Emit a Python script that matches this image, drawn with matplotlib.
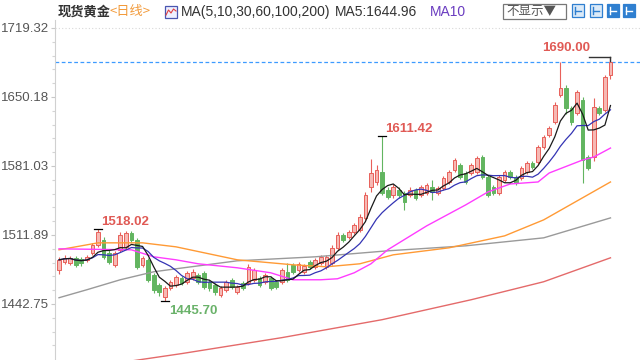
import numpy as np
import pandas as pd
import matplotlib
matplotlib.use('Agg')
import matplotlib.pyplot as plt
from matplotlib.patches import Rectangle

# daily candles, oldest first
opens = [
    1477, 1485, 1484, 1489, 1488, 1487, 1494, 1502, 1507, 1494,
    1482, 1497, 1500, 1514, 1507, 1482, 1487, 1472, 1462, 1450,
    1459, 1462, 1469, 1465, 1469, 1472, 1474, 1465, 1462, 1452,
    1457, 1467, 1455, 1464, 1464, 1467, 1469, 1465, 1469, 1465,
    1465, 1475, 1482, 1477, 1475, 1485, 1480, 1484, 1480, 1484,
    1499, 1512, 1510, 1515, 1517, 1529, 1560, 1565, 1575, 1557,
    1552, 1557, 1554, 1552, 1557, 1552, 1554, 1560, 1554, 1559,
    1565, 1577, 1582, 1574, 1574, 1575, 1590, 1570, 1560, 1554,
    1567, 1575, 1570, 1569, 1575, 1584, 1585, 1600, 1612, 1625,
    1652, 1659, 1639, 1634, 1647, 1590, 1590, 1639, 1637, 1672]
closes = [
    1487, 1489, 1489, 1482, 1484, 1490, 1502, 1515, 1490, 1485,
    1494, 1512, 1514, 1507, 1480, 1489, 1467, 1457, 1455, 1459,
    1465, 1470, 1464, 1474, 1475, 1465, 1460, 1459, 1455, 1459,
    1465, 1460, 1460, 1459, 1480, 1477, 1462, 1472, 1459, 1460,
    1477, 1467, 1475, 1483, 1481, 1480, 1487, 1490, 1490, 1499,
    1512, 1507, 1515, 1522, 1530, 1552, 1574, 1577, 1554, 1550,
    1560, 1552, 1545, 1557, 1549, 1560, 1562, 1555, 1559, 1569,
    1575, 1587, 1570, 1565, 1582, 1589, 1570, 1552, 1554, 1570,
    1575, 1570, 1564, 1579, 1584, 1580, 1600, 1610, 1619, 1642,
    1659, 1639, 1625, 1655, 1587, 1579, 1640, 1634, 1670, 1685]
highs = [
    1490, 1492, 1491, 1491, 1490, 1492, 1504, 1518.02, 1510, 1497,
    1496, 1515, 1516, 1516, 1509, 1491, 1489, 1474, 1464, 1461,
    1467, 1472, 1471, 1476, 1478, 1474, 1476, 1467, 1464, 1461,
    1467, 1469, 1462, 1466, 1483, 1479, 1471, 1474, 1471, 1467,
    1479, 1484, 1484, 1485, 1483, 1487, 1489, 1492, 1492, 1502,
    1515, 1514, 1517, 1524, 1533, 1555, 1588, 1582, 1611.42, 1560,
    1563, 1560, 1556, 1560, 1559, 1562, 1564, 1567, 1561, 1571,
    1577, 1589, 1584, 1576, 1584, 1591, 1592, 1572, 1562, 1572,
    1577, 1577, 1572, 1581, 1586, 1586, 1602, 1612, 1621, 1645,
    1685, 1662, 1641, 1657, 1650, 1592, 1649, 1641, 1672, 1690.00]
lows = [
    1473, 1483, 1482, 1480, 1481, 1485, 1492, 1500, 1488, 1483,
    1480, 1495, 1498, 1505, 1478, 1480, 1465, 1454, 1451, 1445.70,
    1457, 1460, 1462, 1463, 1467, 1463, 1458, 1456, 1452, 1450,
    1455, 1458, 1453, 1457, 1462, 1465, 1460, 1463, 1457, 1458,
    1463, 1465, 1473, 1475, 1473, 1478, 1478, 1482, 1478, 1482,
    1497, 1505, 1508, 1513, 1515, 1527, 1555, 1562, 1552, 1548,
    1549, 1549, 1537, 1550, 1547, 1550, 1552, 1547, 1552, 1557,
    1563, 1575, 1568, 1563, 1572, 1573, 1568, 1550, 1552, 1552,
    1565, 1568, 1562, 1567, 1573, 1578, 1583, 1598, 1610, 1623,
    1650, 1633, 1622, 1632, 1564, 1577, 1586, 1632, 1635, 1668]

# long moving averages (need history before the window), read at a few candles
ma30_idx = [0, 13, 17, 21, 25, 32, 38, 42, 47, 50, 53, 56, 59, 66, 73, 77, 81, 86, 88, 94, 96, 99]
ma30_val = [1498, 1497, 1490, 1487, 1483, 1479, 1474, 1467, 1467, 1468, 1474, 1483, 1497,
            1521, 1542, 1555, 1563, 1565, 1574, 1587, 1590, 1599]
ma60_idx = [0, 7, 15, 21, 32, 42, 48, 54, 60, 70, 80, 87, 93, 99]
ma60_val = [1497, 1504, 1504, 1500, 1487, 1482, 1480, 1483, 1492, 1499, 1511, 1527, 1546, 1565]
ma100_idx = [0, 5, 11, 17, 21, 32, 46, 59, 73, 87, 99]
ma100_val = [1449, 1457, 1467, 1475, 1478, 1486, 1490, 1496, 1501, 1509, 1529]
ma200_idx = [0, 22, 40, 58, 74, 87, 99]
ma200_val = [1375, 1393, 1409, 1427, 1447, 1465, 1489]

ytick_vals = [1442.75, 1511.89, 1581.03, 1650.18, 1719.32]

RED_EDGE = '#e8605a'
RED_FILL = '#f6b9b4'
GREEN = '#62b560'

W, H = 640, 360
fig = plt.figure(figsize=(6.4, 3.6), dpi=100)
ax = fig.add_axes([55 / W, 0, 585 / W, 340 / H])

o = np.array(opens, float)
c = np.array(closes, float)
hi = np.array(highs, float)
lo = np.array(lows, float)
x = np.arange(len(c))
up = c >= o

# wicks then bodies
ax.vlines(x[up], lo[up], hi[up], color=RED_EDGE, lw=0.8, zorder=2)
ax.vlines(x[~up], lo[~up], hi[~up], color=GREEN, lw=0.8, zorder=2)
ax.bar(x[up], (c - o)[up], bottom=o[up], width=0.66, color=RED_FILL,
       edgecolor=RED_EDGE, linewidth=0.7, zorder=3)
ax.bar(x[~up], (o - c)[~up], bottom=c[~up], width=0.66, color=GREEN,
       edgecolor=GREEN, linewidth=0.7, zorder=3)

# moving averages
s = pd.Series(c)
ax.plot(ma200_idx, ma200_val, color='#e46a6a', lw=1.0, zorder=4)
ax.plot(ma100_idx, ma100_val, color='#9a9a9a', lw=1.0, zorder=4)
ax.plot(ma60_idx, ma60_val, color='#ff9a35', lw=1.0, zorder=4)
ax.plot(ma30_idx, ma30_val, color='#ff3cff', lw=1.0, zorder=4)
ax.plot(x, s.rolling(10, min_periods=1).mean(), color='#3434b4', lw=0.9, zorder=5)
ax.plot(x, s.rolling(5, min_periods=1).mean(), color='#1a1a1a', lw=0.9, zorder=6)

# last price line
ax.axhline(c[-1], color='#3d9bff', lw=0.9, ls=(0, (3, 2)), zorder=1)
ax.axhline(ytick_vals[-1], color='#d8d8d8', lw=0.8, ls=(0, (1, 2)), zorder=0)

# high / low markers
lab_font = dict(family='Liberation Sans', fontsize=9.5, fontweight='bold')
i_hi1 = 7
ax.plot([i_hi1 - 0.7, i_hi1 + 0.7], [hi[i_hi1]] * 2, color='k', lw=0.9, zorder=7)
ax.annotate(f'{hi[i_hi1]:.2f}', (i_hi1, hi[i_hi1]), xytext=(3, 7), textcoords='offset pixels',
            color='#e05a55', ha='left', va='center', **lab_font)
i_lo = 19
ax.plot([i_lo - 0.7, i_lo + 0.7], [lo[i_lo]] * 2, color='k', lw=0.9, zorder=7)
ax.annotate(f'{lo[i_lo]:.2f}', (i_lo, lo[i_lo]), xytext=(4, -10), textcoords='offset pixels',
            color='#6ab26a', ha='left', va='center', **lab_font)
i_hi2 = 58
ax.plot([i_hi2 - 0.7, i_hi2 + 0.7], [hi[i_hi2]] * 2, color='k', lw=0.9, zorder=7)
ax.annotate(f'{hi[i_hi2]:.2f}', (i_hi2, hi[i_hi2]), xytext=(3, 7), textcoords='offset pixels',
            color='#e05a55', ha='left', va='center', **lab_font)
i_hi3 = len(c) - 1
ax.plot([i_hi3 - 3.8, i_hi3], [hi[i_hi3]] * 2, color='#333', lw=1.0, zorder=7)
ax.plot([i_hi3, i_hi3], [hi[i_hi3], hi[i_hi3] - 4], color='#333', lw=1.0, zorder=7)
ax.annotate(f'{hi[i_hi3]:.2f}', (i_hi3 - 3.6, hi[i_hi3]), xytext=(0, 9), textcoords='offset pixels',
            color='#e05a55', ha='right', va='center', **lab_font)

# axes
ax.set_xlim(-0.72, 104.3)
ax.set_ylim(1386.6, 1727.3)
ax.set_xticks([])
ax.set_yticks(ytick_vals)
ax.set_yticklabels([f'{v:.2f}' for v in ytick_vals], family='Liberation Sans',
                   fontsize=9.5, color='#555555')
minor = []
for a, b in zip(ytick_vals[:-1], ytick_vals[1:]):
    minor += list(np.linspace(a, b, 6)[1:-1])
minor += list(ytick_vals[0] - np.diff(ytick_vals).mean() * np.arange(1, 4) / 5)
ax.set_yticks(minor, minor=True)
ax.tick_params(axis='y', which='major', direction='out', length=3, width=0.8,
               color='#c8c8c8', pad=1)
ax.tick_params(axis='y', which='minor', direction='out', length=2.5, width=0.8, color='#d5d5d5')
for side in ['top', 'right', 'bottom']:
    ax.spines[side].set_visible(False)
ax.spines['left'].set_color('#d0d0d0')
ax.spines['left'].set_linewidth(0.8)

# header
cjk = ['Noto Sans CJK SC', 'DejaVu Sans']
def ftext(px, py, s, **kw):
    fig.text(px / W, 1 - py / H, s, va='center', ha='left', **kw)

ftext(58, 12, '现货黄金', family=cjk, fontsize=9.5, color='#333333', fontweight='bold')
ftext(109, 12, '<日线>', family=cjk, fontsize=9.5, color='#f29a3a')
fig.add_artist(Rectangle((165 / W, 1 - 18 / H), 12 / W, 12 / H, transform=fig.transFigure,
                         facecolor='#eef0ff', edgecolor='#4a56b0', lw=0.9))
fig.add_artist(plt.Line2D([(166 + k * 2.5) / W for k in range(5)],
                          [1 - v / H for v in [15, 10, 13, 9, 11]], transform=fig.transFigure,
                          color='#e04040', lw=0.8))
ftext(181, 12, 'MA(5,10,30,60,100,200)', family='Liberation Sans', fontsize=10, color='#333333')
ftext(335, 12, 'MA5:1644.96', family='Liberation Sans', fontsize=10, color='#333333')
ftext(430, 12, 'MA10', family='Liberation Sans', fontsize=10, color='#6a3cc0')

fig.add_artist(Rectangle((503 / W, 1 - 18.5 / H), 63 / W, 15 / H, transform=fig.transFigure,
                         facecolor='white', edgecolor='#777777', lw=0.9))
ftext(506, 11, '不显示▼', family=cjk, fontsize=9, color='#555555')
for k, (ix, filled) in enumerate([(572, False), (590, False), (607, True), (623, True)]):
    fig.add_artist(Rectangle((ix / W, 1 - 17 / H), 12 / W, 13 / H, transform=fig.transFigure,
                             facecolor='#2f7fd0' if filled else '#dbeaf8',
                             edgecolor='#2f7fd0', lw=0.9))
    col = 'white' if filled else '#2f7fd0'
    fig.add_artist(plt.Line2D([(ix + 3) / W, (ix + 3) / W], [1 - 14 / H, 1 - 7 / H],
                              transform=fig.transFigure, color=col, lw=1.0))
    fig.add_artist(plt.Line2D([(ix + 3) / W, (ix + 9) / W], [1 - 10.5 / H, 1 - 10.5 / H],
                              transform=fig.transFigure, color=col, lw=1.0))

fig.savefig('out.png', dpi=100)
